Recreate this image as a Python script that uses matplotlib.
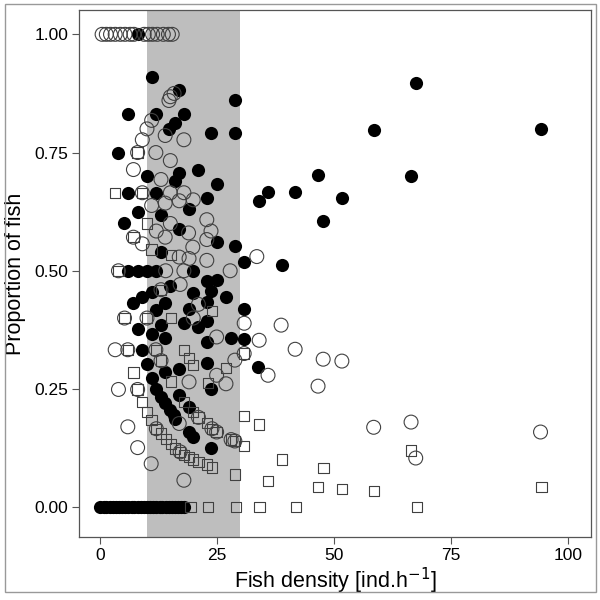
import matplotlib
matplotlib.use("Agg")
import matplotlib.pyplot as plt
from matplotlib.patches import Rectangle

plt.rcParams['font.family'] = ['Liberation Sans', 'DejaVu Sans']

# filled circles
filled_x = [8.0, 11.0, 16.9, 28.8, 5.9, 12.0, 17.9, 15.9, 14.8, 23.7, 28.8, 3.9,
            20.9, 10.0, 16.9, 16.0, 24.9, 5.9, 11.9, 18.9, 22.8, 8.0, 5.0, 13.0,
            16.9, 24.9, 28.8, 13.0, 30.8, 5.9, 8.0, 10.1, 12.0, 19.9,
            22.8, 24.9, 15.0, 11.0, 9.0, 23.7, 19.9, 7.1, 13.9, 26.9, 22.8, 18.9, 12.0,
            30.8, 13.0, 18.0, 22.8, 21.0, 8.0, 11.0, 13.9, 27.9, 22.8, 30.8,
            8.9, 10.0, 16.9, 13.9, 22.8, 11.0, 23.7, 12.0, 13.0, 16.9, 13.9, 18.9,
            15.0, 15.7, 16.0, 19.0, 19.9, 23.7,
            67.5, 58.5, 94.2, 46.6, 66.5, 35.9, 34.0, 41.7, 51.7, 47.6, 38.9, 33.8]
filled_y = [1.0, 0.91, 0.882, 0.862, 0.832, 0.832, 0.832, 0.812, 0.80, 0.792, 0.792, 0.75,
            0.714, 0.70, 0.707, 0.689, 0.684, 0.665, 0.665, 0.631, 0.653, 0.624, 0.60, 0.617,
            0.589, 0.561, 0.552, 0.54, 0.519, 0.5, 0.5, 0.5, 0.5, 0.5,
            0.478, 0.48, 0.467, 0.455, 0.445, 0.457, 0.452, 0.431, 0.431, 0.445, 0.434, 0.42, 0.416,
            0.419, 0.386, 0.39, 0.393, 0.381, 0.376, 0.366, 0.357, 0.357, 0.35, 0.355,
            0.333, 0.302, 0.293, 0.286, 0.305, 0.274, 0.251, 0.249, 0.233, 0.237, 0.221, 0.212,
            0.205, 0.195, 0.186, 0.159, 0.149, 0.126,
            0.896, 0.797, 0.80, 0.702, 0.70, 0.666, 0.647, 0.666, 0.653, 0.605, 0.512, 0.296]
# filled circles sitting on zero
filled_zero_x = [0, 0.7, 1.3, 2, 2.7, 3.3, 4, 4.7, 5.3, 6, 6.7, 7.3, 8, 8.7, 9.3, 10,
                 10.7, 11.3, 12, 12.7, 13.3, 14, 14.7, 15.3, 16, 16.7, 17.3, 18]

# open circles
open_x = [0.4, 1.3, 2.2, 3.2, 4.3, 5.3, 6.4, 7.2, 9.4, 10.3, 11.2, 12.2, 13.5, 14.6, 15.4,
          15.0, 15.8, 14.7, 11.0, 10.0, 13.9, 17.9, 9.0, 8.0, 11.9, 15.0, 7.1, 13.0,
          9.0, 15.0, 17.9, 11.0, 13.9, 16.9, 19.9, 15.0, 12.0, 18.9, 22.8, 23.7, 13.9,
          7.1, 9.0, 22.8, 19.8, 16.9, 19.0, 22.8, 3.9, 14.0, 17.9, 27.8, 13.0, 17.1, 21.0,
          5.2, 10.0, 19.9, 24.9, 3.2, 5.9, 11.9, 13.0, 24.9, 19.0, 26.9, 3.9, 8.0,
          21.0, 5.9, 12.0, 16.9, 23.9, 24.9, 8.0, 17.1, 28.0, 10.9, 17.9,
          30.8, 38.7, 34.0, 41.7, 47.7, 51.7, 35.9, 46.6, 58.5, 66.5, 67.5, 94.2,
          28.8, 30.8, 28.8, 33.5]
open_y = [1.0, 1.0, 1.0, 1.0, 1.0, 1.0, 1.0, 1.0, 1.0, 1.0, 1.0, 1.0, 1.0, 1.0, 1.0,
          0.868, 0.875, 0.86, 0.818, 0.80, 0.786, 0.777, 0.777, 0.75, 0.75, 0.733, 0.714, 0.693,
          0.665, 0.665, 0.665, 0.638, 0.643, 0.648, 0.65, 0.60, 0.584, 0.58, 0.608, 0.584, 0.571,
          0.571, 0.557, 0.566, 0.55, 0.529, 0.526, 0.522, 0.5, 0.5, 0.5, 0.5, 0.46, 0.471, 0.429,
          0.40, 0.40, 0.40, 0.36, 0.333, 0.333, 0.333, 0.31, 0.279, 0.265, 0.261, 0.249, 0.249,
          0.19, 0.17, 0.166, 0.177, 0.166, 0.159, 0.126, 0.117, 0.143, 0.092, 0.057,
          0.389, 0.385, 0.353, 0.334, 0.313, 0.309, 0.279, 0.256, 0.169, 0.18, 0.104, 0.159,
          0.311, 0.325, 0.14, 0.53]

# open squares
square_x = [3.1, 9.0, 8.0, 10.0, 7.1, 11.0, 15.1, 3.9, 13.0, 23.9, 5.2, 10.0, 15.1,
            5.9, 11.9, 17.9, 19.0, 19.9, 13.0, 26.9, 7.1, 15.1, 23.0, 8.0, 9.0, 17.9,
            10.0, 19.9, 21.0, 11.0, 22.8, 12.0, 23.9, 24.9, 13.0, 14.0, 15.1, 16.0, 17.1,
            17.9, 19.0, 19.9, 21.0, 22.8, 23.9, 28.0,
            30.8, 34.0, 30.8, 38.9, 47.8, 28.8, 35.9, 46.6, 51.7, 58.6, 66.5, 94.4, 30.8, 28.8,
            19.3, 23.1, 29.1, 34.1, 41.9, 67.8]
square_y = [0.665, 0.665, 0.75, 0.60, 0.571, 0.545, 0.533, 0.5, 0.46, 0.415, 0.40, 0.40, 0.40,
            0.333, 0.333, 0.333, 0.316, 0.30, 0.31, 0.295, 0.285, 0.266, 0.263, 0.249, 0.223, 0.223,
            0.201, 0.201, 0.19, 0.184, 0.178, 0.166, 0.166, 0.159, 0.156, 0.144, 0.133, 0.124, 0.117,
            0.111, 0.106, 0.101, 0.096, 0.09, 0.084, 0.143,
            0.193, 0.175, 0.129, 0.101, 0.083, 0.069, 0.055, 0.042, 0.038, 0.034, 0.12, 0.042, 0.325, 0.14,
            0, 0, 0, 0, 0, 0]

x_ticks = [0, 25, 50, 75, 100]
y_ticks = [0.00, 0.25, 0.50, 0.75, 1.00]
y_labels = ['0.00', '0.25', '0.50', '0.75', '1.00']
shade_range = (10, 30)

fig = plt.figure(figsize=(6, 6), dpi=100)
ax = fig.add_axes([0.132, 0.105, 0.853, 0.878])

ax.axvspan(shade_range[0], shade_range[1], color='#bebebe', lw=0, zorder=0)

ax.scatter(filled_x, filled_y, s=90, c='black', lw=0, zorder=2)
ax.scatter(filled_zero_x, [0] * len(filled_zero_x), s=90, c='black', lw=0, zorder=2)
ax.scatter(open_x, open_y, s=100, facecolors='none', edgecolors='#404040', lw=0.8, zorder=3)
ax.scatter(square_x, square_y, s=55, marker='s', facecolors='none', edgecolors='#404040',
           lw=0.8, zorder=3)

ax.set_xlim(-4.5, 105)
ax.set_ylim(-0.063, 1.051)
ax.set_xticks(x_ticks)
ax.set_yticks(y_ticks)
ax.set_yticklabels(y_labels)
ax.tick_params(direction='out', length=5, width=0.8, color='#555555', labelsize=12.5, pad=3)
for sp in ax.spines.values():
    sp.set_color('#555555')
    sp.set_linewidth(0.9)

ax.set_xlabel('Fish density [ind.h$^{-1}$]', fontsize=15.5, labelpad=2)
ax.set_ylabel('Proportion of fish', fontsize=15.5, labelpad=6)

# outer frame around the figure
fig.patches.append(Rectangle((0.008, 0.013), 0.985, 0.98, transform=fig.transFigure,
                             fill=False, edgecolor='#999999', lw=1))

plt.savefig('out.png', dpi=100)
